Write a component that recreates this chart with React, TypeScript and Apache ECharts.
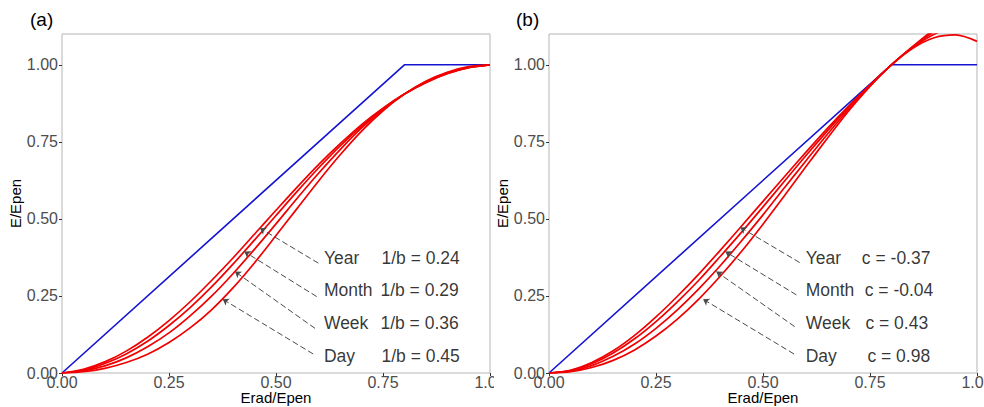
import React, { useEffect, useRef } from "react";
import * as echarts from "echarts";

// ---------- data ----------
const X_VALUES = [0, 0.05, 0.1, 0.15, 0.2, 0.25, 0.3, 0.35, 0.4, 0.45, 0.5, 0.55, 0.6, 0.65, 0.7, 0.75, 0.8, 0.85, 0.9, 0.95, 1.0];

// panel (a): E/Epen vs Erad/Epen for the four time scales
const A_YEAR = [0, 0.012, 0.036, 0.071, 0.116, 0.17, 0.232, 0.301, 0.374, 0.451, 0.528, 0.604, 0.677, 0.744, 0.806, 0.859, 0.905, 0.942, 0.971, 0.991, 1.0];
const A_MONTH = [0, 0.009, 0.031, 0.062, 0.103, 0.154, 0.213, 0.28, 0.354, 0.432, 0.511, 0.59, 0.666, 0.737, 0.801, 0.858, 0.905, 0.943, 0.972, 0.991, 1.0];
const A_WEEK = [0, 0.007, 0.023, 0.049, 0.085, 0.13, 0.186, 0.25, 0.323, 0.402, 0.484, 0.568, 0.649, 0.725, 0.795, 0.855, 0.905, 0.945, 0.974, 0.992, 1.0];
const A_DAY = [0, 0.004, 0.015, 0.034, 0.061, 0.099, 0.147, 0.206, 0.277, 0.358, 0.446, 0.535, 0.624, 0.708, 0.785, 0.851, 0.905, 0.947, 0.976, 0.994, 1.0];

// panel (b)
const B_YEAR = [0, 0.009, 0.034, 0.072, 0.122, 0.182, 0.249, 0.321, 0.398, 0.477, 0.557, 0.637, 0.716, 0.793, 0.866, 0.935, 1.0, 1.06, 1.115, 1.164, 1.208];
const B_MONTH = [0, 0.008, 0.03, 0.065, 0.111, 0.167, 0.231, 0.301, 0.378, 0.457, 0.539, 0.622, 0.705, 0.785, 0.862, 0.934, 1.0, 1.059, 1.108, 1.148, 1.176];
const B_WEEK = [0, 0.006, 0.024, 0.054, 0.094, 0.145, 0.205, 0.273, 0.348, 0.429, 0.513, 0.601, 0.688, 0.774, 0.856, 0.932, 1.0, 1.056, 1.099, 1.124, 1.13];
const B_DAY = [0, 0.004, 0.018, 0.041, 0.075, 0.12, 0.175, 0.24, 0.314, 0.395, 0.483, 0.575, 0.669, 0.761, 0.85, 0.93, 1.0, 1.054, 1.088, 1.097, 1.076];

// reference (blue) line
const BLUE_X = [0, 0.8, 1.0];
const BLUE_Y = [0, 1.0, 1.0];

const TICKS = [0, 0.25, 0.5, 0.75, 1.0];
const PERIODS = ["Year", "Month", "Week", "Day"];
const A_PARAMS = ["1/b = 0.24", "1/b = 0.29", "1/b = 0.36", "1/b = 0.45"];
const B_PARAMS = ["c = -0.37", "c = -0.04", "c = 0.43", "c = 0.98"];

// ---------- annotation layout (data coordinates) ----------
const ROW_Y = [0.373, 0.27, 0.1615, 0.056];
const A_NAME_X = 0.612;
const A_VALUE_X = [0.7465, 0.744, 0.744, 0.7465];
const B_NAME_X = 0.5998;
const B_VALUE_X = [0.731, 0.7376, 0.7393, 0.7439];
// [tailX, tailY, headX, headY]
const A_ARROWS = [
  [0.599, 0.3565, 0.4626, 0.47],
  [0.595, 0.248, 0.426, 0.394],
  [0.591, 0.145, 0.404, 0.329],
  [0.587, 0.0617, 0.3754, 0.2395],
];
const B_ARROWS = [
  [0.5857, 0.3585, 0.447, 0.4725],
  [0.578, 0.2535, 0.412, 0.394],
  [0.574, 0.1505, 0.391, 0.329],
  [0.5725, 0.0617, 0.36, 0.2395],
];

const FONT = "'Liberation Sans', Arial, sans-serif";
const RED = "#f00000";
const BLUE = "#1414d2";

function buildSeries(idx: number, curves: number[][], params: string[], nameX: number, valueX: number[], arrows: number[][]) {
  const out: any[] = [];
  out.push({
    type: "line",
    xAxisIndex: idx,
    yAxisIndex: idx,
    data: BLUE_X.map((x, i) => [x, BLUE_Y[i]]),
    symbol: "none",
    clip: true,
    silent: true,
    z: 2,
    lineStyle: { color: BLUE, width: 1.6 },
    markLine: {
      silent: true,
      symbol: ["none", "arrow"],
      symbolSize: 6,
      label: { show: false },
      lineStyle: { type: [6, 3], color: "#4a4a4a", width: 1 },
      data: arrows.map((a) => [{ coord: [a[0], a[1]] }, { coord: [a[2], a[3]] }]),
    },
  });
  curves.forEach((c) => {
    out.push({
      type: "line",
      xAxisIndex: idx,
      yAxisIndex: idx,
      data: X_VALUES.map((x, i) => [x, c[i]]),
      symbol: "none",
      smooth: 0.3,
      clip: true,
      silent: true,
      z: 3,
      lineStyle: { color: RED, width: 1.7 },
    });
  });
  const labelStyle = { show: true, position: "right", distance: 0, fontSize: 17.5, color: "#000000", fontFamily: FONT };
  out.push({
    type: "scatter",
    xAxisIndex: idx,
    yAxisIndex: idx,
    symbolSize: 0,
    silent: true,
    z: 5,
    data: PERIODS.map((p, i) => ({ value: [nameX, ROW_Y[i]], label: { ...labelStyle, formatter: p } })),
  });
  out.push({
    type: "scatter",
    xAxisIndex: idx,
    yAxisIndex: idx,
    symbolSize: 0,
    silent: true,
    z: 5,
    data: params.map((p, i) => ({ value: [valueX[i], ROW_Y[i]], label: { ...labelStyle, formatter: p } })),
  });
  return out;
}

function xAxisCfg(idx: number) {
  return {
    type: "value",
    gridIndex: idx,
    min: 0,
    max: 1,
    interval: 0.25,
    name: "Erad/Epen",
    nameLocation: "middle",
    nameGap: 17,
    nameMoveOverlap: false,
    nameTextStyle: { fontSize: 15, color: "#000", fontFamily: FONT },
    axisLine: { show: false },
    axisTick: { show: true, length: 3, lineStyle: { color: "#333" } },
    axisLabel: { margin: 1, fontSize: 16, color: "#4d4d4d", fontFamily: FONT, formatter: (v: number) => v.toFixed(2) },
    splitLine: { show: false },
  };
}

function yAxisCfg(idx: number) {
  return {
    type: "value",
    gridIndex: idx,
    min: 0,
    max: 1.1,
    interval: 0.25,
    name: "E/Epen",
    nameLocation: "middle",
    nameGap: 37,
    nameRotate: 90,
    nameTextStyle: { fontSize: 15, color: "#000", fontFamily: FONT },
    axisLine: { show: false },
    axisTick: { show: true, length: 3, customValues: TICKS, lineStyle: { color: "#333" } },
    axisLabel: {
      margin: 4,
      fontSize: 16,
      color: "#4d4d4d",
      fontFamily: FONT,
      customValues: TICKS,
      formatter: (v: number) => (TICKS.indexOf(v) >= 0 ? v.toFixed(2) : ""),
    },
    splitLine: { show: false },
  };
}

export default function App() {
  const ref = useRef<HTMLDivElement>(null);
  useEffect(() => {
    document.body.style.margin = "0";
    if (!ref.current) return;
    const chart = echarts.init(ref.current, null, { renderer: "svg" });
    const gridBase = {
      top: 34,
      width: 428,
      height: 339,
      show: true,
      borderColor: "#b5b5b5",
      borderWidth: 1,
      backgroundColor: "transparent",
      containLabel: false,
      outerBoundsMode: "none",
    };
    const option: any = {
      animation: false,
      backgroundColor: "#ffffff",
      grid: [
        { ...gridBase, left: 62 },
        { ...gridBase, left: 549 },
      ],
      xAxis: [xAxisCfg(0), xAxisCfg(1)],
      yAxis: [yAxisCfg(0), yAxisCfg(1)],
      series: [
        ...buildSeries(0, [A_YEAR, A_MONTH, A_WEEK, A_DAY], A_PARAMS, A_NAME_X, A_VALUE_X, A_ARROWS),
        ...buildSeries(1, [B_YEAR, B_MONTH, B_WEEK, B_DAY], B_PARAMS, B_NAME_X, B_VALUE_X, B_ARROWS),
      ],
      graphic: [
        { type: "rect", left: 494, top: 374, shape: { width: 20, height: 20 }, style: { fill: "#ffffff" }, z: 100 },
        { type: "text", left: 30, top: 10, style: { text: "(a)", fontSize: 19, fill: "#000", fontFamily: FONT }, z: 100 },
        { type: "text", left: 516, top: 10, style: { text: "(b)", fontSize: 19, fill: "#000", fontFamily: FONT }, z: 100 },
      ],
    };
    chart.setOption(option);
    return () => chart.dispose();
  }, []);
  return <div ref={ref} style={{ width: 984, height: 407 }} />;
}
